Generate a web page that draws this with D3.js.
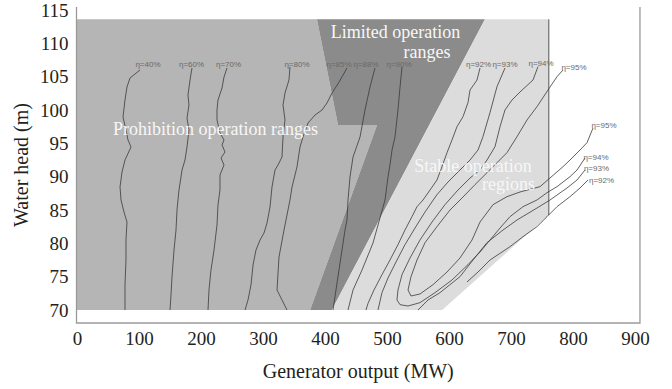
<!DOCTYPE html>
<html><head><meta charset="utf-8">
<script src="https://cdn.jsdelivr.net/npm/d3@7/dist/d3.min.js"></script>
<style>body{margin:0;background:#fff}svg{display:block}</style>
</head><body><svg id="c" width="672" height="389"></svg>
<script>
// ---- data ----
const xTicks = [0,100,200,300,400,500,600,700,800,900];
const yTicks = [70,75,80,85,90,95,100,105,110,115];
const xTitle = "Generator output (MW)";
const yTitle = "Water head (m)";

// operating regions (MW, head)
const prohibitionRegion = [[0,70],[0,113.6],[387,113.6],[421,97.75],[484,97.75],[376,70]];
const limitedRegion = [[387,113.6],[658,113.6],[411,70],[376,70],[484,97.75],[421,97.75]];
const stableRegion = [[658,113.6],[761,113.6],[761,84.25],[589,70],[411,70]];
const stableEdge = [[761,113.6],[761,84.25]];

const regionNames = ["Prohibition operation ranges","Limited operation","ranges","Stable operation","regions"];
const regionNameMW = [223.4,513.7,564.5,638.7,696];
const regionNameHead = [96.25,110.8,107.8,90.7,88.0];

// efficiency contours (MW, head)
const eta40 = [[101.6,106.0],[85.5,104.8],[80.6,103.45],[77.4,101.5],[74.2,98.95],[79.0,97.0],[82.3,95.5],[87.1,94.45],[77.4,92.5],[72.6,90.7],[69.4,88.45],[71.0,86.5],[75.8,84.7],[80.6,83.2],[79.0,80.5],[79.0,77.5],[77.4,73.75],[77.4,70]];
const eta60 = [[185.5,106.3],[182.3,104.5],[179.0,102.25],[180.6,100.75],[177.4,98.8],[180.6,97.0],[177.4,94.45],[174.2,92.5],[169.4,91.0],[167.7,89.95],[164.5,88.0],[161.3,85.0],[159.7,82.0],[156.5,79.0],[153.2,74.95],[151.6,72.25],[150,70]];
const eta70 = [[241.9,106.3],[237.1,104.95],[233.9,103.3],[227.4,101.5],[225.8,100.0],[225.8,98.5],[230.6,96.55],[237.1,95.5],[233.9,94.75],[238.7,93.7],[232.3,92.8],[237.1,91.75],[230.6,90.25],[230.6,88.0],[227.4,85.75],[225.8,82.75],[221.0,79.0],[216.1,76.0],[212.9,73.0],[211.3,70]];
const eta80 = [[343.5,106.45],[341.9,104.5],[335.5,102.55],[332.3,100.75],[335.5,98.5],[332.3,95.95],[330.6,92.95],[324.2,91.75],[319.4,91.0],[314.5,88.45],[311.3,85.45],[306.5,83.05],[301.6,81.55],[295.2,80.5],[288.7,79.0],[283.9,76.75],[280.6,73.75],[275.8,71.5],[271.0,70]];
const eta85 = [[435.5,106.3],[421.8,104.05],[411.3,102.55],[403.2,101.05],[395.2,100.0],[383.9,99.25],[372.6,98.05],[364.5,95.95],[359.7,94.45],[354.8,91.45],[346.8,88.45],[343.5,86.5],[338.7,84.25],[333.9,82.0],[325.8,77.95],[322.6,73.0],[332.3,71.2],[338.7,70]];
const eta88 = [[480.6,106.3],[472.6,103.45],[464.5,100.0],[456.5,95.95],[445.2,92.95],[440.3,89.95],[437.1,86.5],[435.5,83.5],[432.3,82.0],[427.4,79.0],[419.4,74.05],[412.9,70]];
const eta90 = [[524.2,106.45],[521.0,103.45],[517.7,100.0],[512.9,95.95],[508.1,94.0],[504.8,91.75],[501.6,89.95],[496.8,86.5],[485.5,82.75],[477.4,80.05],[459.7,76.0],[445.2,73.0],[437.1,70]];
const eta92a = [[650.0,106.3],[645.2,104.5],[633.9,103.0],[630.6,101.1],[622.6,99.0],[612.9,97.5],[604.8,95.5],[596.8,93.6],[588.7,91.5],[580.6,89.5],[569.4,88.0],[558.1,86.5],[548.4,85.5],[540.3,84.0],[529.0,82.0],[517.7,79.8],[504.8,77.5],[491.9,75.3],[479.0,73.0],[469.4,71.0],[466.1,70]];
const eta92b = [[824.2,89.5],[811.3,88.3],[795.2,87.0],[774.2,85.5],[758.1,84.0],[741.9,82.5],[719.4,81.0],[698.4,79.5],[666.1,77.5],[646.8,75.7],[629.0,74.2]];
const eta93a = [[690.3,106.3],[677.4,103.5],[666.1,99.6],[654.8,96.0],[646.8,94.0],[633.9,92.5],[617.7,91.0],[598.4,89.2],[580.6,87.3],[561.3,84.7],[545.2,82.3],[529.0,79.8],[514.5,77.2],[501.6,74.8],[491.9,72.6],[485.5,70]];
const eta93b = [[550.0,70],[566.1,71.5],[585.5,72.6],[601.6,73.8],[617.7,75.0],[638.7,77.5],[661.3,80.1],[687.1,82.0],[709.7,83.5],[741.9,85.3],[762.9,86.5],[790.3,88.3],[806.5,89.5],[819.4,91.0]];
const eta94 = [[743.5,106.5],[735.5,104.5],[714.5,102.7],[701.6,101.5],[690.3,100.0],[682.3,97.5],[674.2,94.5],[661.3,92.5],[650.0,91.0],[633.9,89.8],[614.5,88.0],[593.5,85.8],[572.6,83.2],[553.2,80.5],[537.1,77.8],[524.2,75.3],[517.7,73.0],[516.1,71.5],[521.0,70.8],[533.9,70.6],[553.2,71.1],[577.4,72.6],[604.8,74.5],[630.6,76.8],[650.0,78.7],[666.1,80.5],[682.3,82.3],[698.4,84.0],[719.4,85.5],[741.9,86.5],[758.1,87.6],[774.2,88.5],[795.2,90.0],[806.5,91.0],[819.4,92.8]];
const eta95 = [[783.9,106.0],[774.2,105.0],[759.7,103.0],[741.9,100.5],[725.8,98.5],[709.7,96.0],[693.5,93.6],[677.4,92.1],[661.3,90.6],[641.9,88.8],[621.0,86.8],[601.6,85.0],[580.6,82.5],[561.3,80.1],[548.4,77.5],[538.7,75.0],[533.9,73.0],[538.7,72.1],[553.2,72.4],[574.2,73.8],[596.8,75.7],[617.7,77.8],[637.1,80.5],[650.0,83.2],[671.0,85.8],[693.5,87.0],[714.5,87.7],[746.8,88.5],[762.9,89.8],[783.9,91.5],[795.2,92.5],[811.3,94.0],[822.6,95.1],[832.3,97.3]];

const contours = [eta40,eta60,eta70,eta80,eta85,eta88,eta90,eta92a,eta92b,eta93a,eta93b,eta94,eta95];

const etaLabels = ["η=40%","η=60%","η=70%","η=80%","η=85%","η=88%","η=90%","η=92%","η=93%","η=94%","η=95%","η=95%","η=94%","η=93%","η=92%"];
const etaLabelMW = [114.5,184.7,244.4,354.8,422.6,466.1,519.4,647.6,690.3,748.4,801.6,850,837.1,837.9,846];
const etaLabelHead = [106.45,106.45,106.45,106.45,106.45,106.45,106.45,106.45,106.45,106.6,106.0,97.3,92.5,90.85,89.05];

const xFrame = [0,908];
const yFrame = [68.05,115.45];

// ---- drawing ----
const svg = d3.select("#c");
const x = d3.scaleLinear().domain([0,900]).range([77,635]);
const y = d3.scaleLinear().domain([70,115]).range([310,10]);
const poly = d3.line().x(d=>x(d[0])).y(d=>y(d[1]));
const serif = "'Liberation Serif','DejaVu Serif',serif";

svg.append("path").attr("d", poly(prohibitionRegion)+"Z").attr("fill","#b5b5b5");
svg.append("path").attr("d", poly(limitedRegion)+"Z").attr("fill","#8b8b8b");
svg.append("path").attr("d", poly(stableRegion)+"Z").attr("fill","#dcdcdc");
svg.append("path").attr("d", poly(stableEdge)).attr("stroke","#555").attr("stroke-width",1).attr("fill","none");

svg.selectAll("path.contour").data(contours).join("path")
  .attr("class","contour").attr("d",d=>poly(d))
  .attr("fill","none").attr("stroke","#3a3a3a").attr("stroke-width",0.8);

svg.selectAll("text.eta").data(etaLabels).join("text")
  .attr("class","eta")
  .attr("x",(d,i)=>x(etaLabelMW[i])).attr("y",(d,i)=>y(etaLabelHead[i]))
  .attr("text-anchor","middle").attr("font-family","'Liberation Sans',Arial,sans-serif")
  .attr("font-size",8).attr("fill","#6a6a6a").text(d=>d);

svg.selectAll("text.region").data(regionNames).join("text")
  .attr("class","region")
  .attr("x",(d,i)=>x(regionNameMW[i])).attr("y",(d,i)=>y(regionNameHead[i]))
  .attr("text-anchor","middle").attr("font-family",serif).attr("font-size",18)
  .attr("fill","#f7f7f7").text(d=>d);

// frame
const fx0 = x(xFrame[0]) - 0.5, fx1 = x(xFrame[1]), fy0 = y(yFrame[0]), fy1 = y(yFrame[1]);
svg.append("path").attr("d",`M${fx0},${fy1}V${fy0}H${fx1}V${fy1}`)
  .attr("fill","none").attr("stroke","#9a9a9a").attr("stroke-width",1.3);

// axes
const gx = svg.append("g").attr("transform",`translate(0,${fy0})`)
  .call(d3.axisBottom(x).tickValues(xTicks).tickSize(0).tickPadding(9));
const gy = svg.append("g").attr("transform",`translate(${fx0},0)`)
  .call(d3.axisLeft(y).tickValues(yTicks).tickSize(0).tickPadding(8));
[gx,gy].forEach(g=>{
  g.select(".domain").remove();
  g.selectAll("text").attr("font-family",serif).attr("font-size",19).attr("fill","#231f20");
});

svg.append("text").attr("x",(fx0+fx1)/2).attr("y",378).attr("text-anchor","middle")
  .attr("font-family",serif).attr("font-size",20).attr("fill","#231f20").text(xTitle);
svg.append("text").attr("transform",`translate(28,${(fy0+fy1)/2}) rotate(-90)`).attr("text-anchor","middle")
  .attr("font-family",serif).attr("font-size",20).attr("fill","#231f20").text(yTitle);
</script>
</body></html>
